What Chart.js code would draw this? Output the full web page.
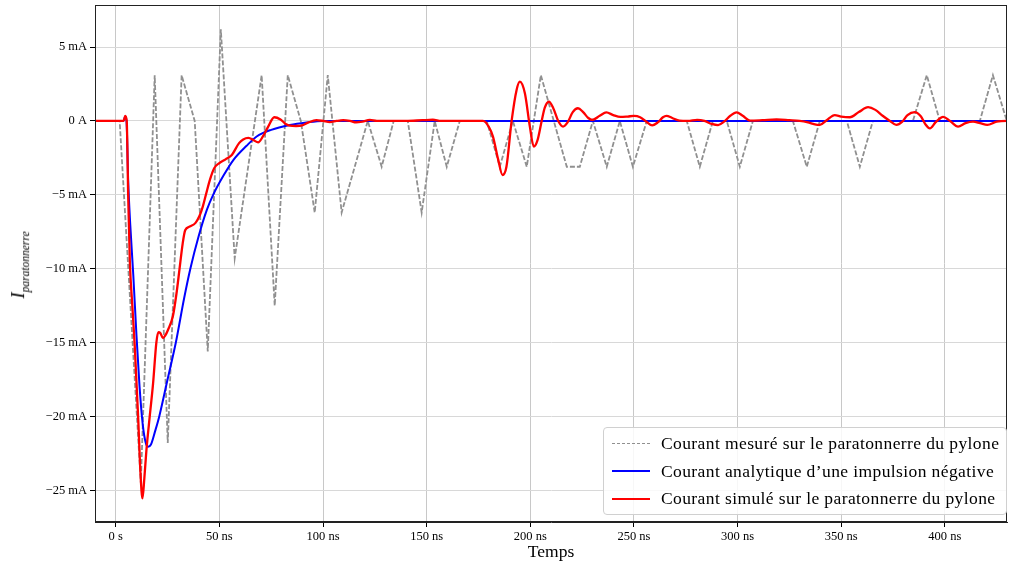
<!DOCTYPE html>
<html>
<head>
<meta charset="utf-8">
<script src="https://cdn.jsdelivr.net/npm/chart.js@4.4.0/dist/chart.umd.min.js"></script>
<style>
body { margin: 0; background: #fff; }
#wrap { position: relative; width: 1009px; height: 564px; font-family: "Liberation Serif", serif; }
#chart { position: absolute; left: 0; top: 0; }
#ylabel { position: absolute; left: 19px; top: 265px; transform: translate(-50%, -50%) rotate(-90deg);
  white-space: nowrap; font-style: italic; font-size: 19px; }
#ylabel sub { font-size: 11.5px; }
#legend { position: absolute; left: 603px; top: 427px; width: 404px; height: 88px; box-sizing: border-box;
  border: 1px solid #d0d0d0; border-radius: 4px; background: rgba(255,255,255,0.85); padding-top: 2px; }
.row { height: 27.5px; display: flex; align-items: center; font-size: 17.5px; letter-spacing: 0.4px; }
.swatch { width: 38px; margin-left: 8px; margin-right: 11px; height: 0; }
</style>
</head>
<body>
<div id="wrap">
  <canvas id="chart" width="1009" height="564"></canvas>
  <div id="ylabel">I<sub>paratonnerre</sub></div>
  <div id="legend"></div>
</div>
<script>
// axis ticks
const timeTicks = [0, 50, 100, 150, 200, 250, 300, 350, 400];
const timeTickLabels = ['0 s', '50 ns', '100 ns', '150 ns', '200 ns', '250 ns', '300 ns', '350 ns', '400 ns'];
const currentTicks = [5, 0, -5, -10, -15, -20, -25];
const currentTickLabels = ['5 mA', '0 A', '\u22125 mA', '\u221210 mA', '\u221215 mA', '\u221220 mA', '\u221225 mA'];

// measured current (ns, mA)
const measuredTime = [-10, 1.9, 12.1, 18.8, 25.1, 31.8, 38.1, 44.4, 50.7, 57.4, 70.4, 76.7, 83.0, 89.3, 96.0,
  102.3, 109.0, 121.6, 128.3, 134.1, 140.9, 147.6, 153.9, 159.7, 166.0, 179.0, 185.3, 191.6, 198.3, 205.1,
  217.6, 223.9, 230.2, 236.9, 243.2, 249.5, 256.2, 275.5, 281.8, 288.1, 294.8, 301.1, 307.4, 326.7, 333.4,
  339.7, 352.7, 359.0, 365.3, 384.6, 391.3, 397.6, 416.9, 423.2, 429.9, 436.2];
const measuredCurrent = [0, 0, -24.5, 3.1, -21.8, 3.1, 0, -15.6, 6.2, -9.3, 3.1, -12.5, 3.1, 0, -6.2,
  3.1, -6.2, 0, -3.1, 0, 0, -6.2, 0, -3.1, 0, 0, -3.1, 0, -3.1, 3.1,
  -3.1, -3.1, 0, -3.1, 0, -3.1, 0, 0, -3.1, 0, 0, -3.1, 0, 0, -3.1,
  0, 0, -3.1, 0, 0, 3.1, 0, 0, 3.1, 0, 3.1];

// analytic negative impulse (ns, mA)
const analyticTime = [-10, 3.8, 4.5, 5.2, 6, 7, 8.5, 10, 11.5, 13, 14.5, 15.6, 17, 19, 21, 25, 29, 33, 36,
  40, 44, 47, 52, 57, 63, 68, 75, 84, 92, 100, 430];
const analyticCurrent = [0, 0, 0.3, 0, -4, -7, -10.5, -14.5, -18, -20.5, -21.8, -22.05, -21.9, -21, -20, -17.5,
  -15, -12, -10, -7.8, -6, -5, -3.7, -2.6, -1.7, -1.05, -0.6, -0.27, -0.1, 0, 0];

// simulated current (ns, mA)
const simulatedTime = [-10, 3.8, 4.6, 5.3, 6, 6.8, 8, 9.2, 10.8, 12.0, 12.9, 13.8, 14.8, 16.4, 18, 19.6, 20.6,
  21.5, 22.8, 24, 25.2, 27.6, 29.3, 30.8, 32.3, 33.5, 35.7, 38.5, 40.5, 42, 43.5, 45.4, 47.5, 50, 53, 56,
  59.5, 61.5, 64, 66.5, 68.7, 71, 73.5, 76.5, 79.5, 82, 84, 87, 90, 93, 96.8, 100, 103.3, 106.5, 109.7,
  113, 116, 119, 122.6, 126, 132, 140, 148, 153, 157, 161, 170, 177.2, 180, 182, 184.5, 186.6, 188.5, 191,
  193.4, 195, 197.4, 199.8, 201.7, 203.5, 205.5, 207, 209, 211, 213.5, 215.8, 218, 220.5, 223, 225.5, 228,
  230, 233.5, 236.7, 240, 243.5, 247, 250, 253, 256, 258.8, 261.5, 264, 265.7, 268.5, 272, 276, 280.5, 284,
  287.5, 290.6, 293.5, 296.5, 299.5, 302.5, 306, 312, 318.8, 325, 330, 334, 336.5, 339.7, 343, 346.9, 350,
  354.2, 358.5, 363, 366.5, 370, 373.5, 376.6, 379.5, 382, 385.5, 388.5, 390.5, 392.8, 395.5, 399.2, 402.5,
  406.4, 410, 413.6, 417, 420.5, 425, 430, 432];
const simulatedCurrent = [0, 0, 0.35, 0, -5, -9.5, -12.5, -15.3, -20, -24, -25.55, -24.2, -22.3, -20, -17.8, -15, -14.3,
  -14.35, -14.7, -14.5, -14.15, -13.2, -11.7, -10, -8.3, -7.4, -7.15, -6.9, -6.4, -5.8, -5, -4.0, -3.2, -2.85, -2.6, -2.3,
  -1.5, -1.25, -1.15, -1.3, -1.45, -1.05, -0.4, 0.25, 0.1, -0.2, -0.32, -0.34, -0.3, -0.1, 0.05, 0, -0.08, 0, 0.05,
  0, -0.1, -0.05, 0.07, 0, 0, 0, 0.05, 0.08, 0, 0, 0, 0, -0.4, -1.06, -2.6, -3.66, -3.1, 0,
  2.1, 2.66, 1.87, -0.38, -1.74, -1.3, 0, 0.9, 1.3, 0.9, 0, -0.38, -0.1, 0.6, 0.86, 0.6, 0.2,
  0.07, 0.35, 0.58, 0.4, 0.27, 0.3, 0.34, 0.25, -0.05, -0.3, -0.1, 0.25, 0.35, 0.2, 0.02, 0, 0.07, 0,
  -0.2, -0.28, -0.05, 0.35, 0.58, 0.35, 0.02, 0.05, 0.1, 0.05, 0, -0.1, -0.2, -0.27, 0.05, 0.4, 0.3,
  0.25, 0.6, 0.93, 0.75, 0.35, 0, -0.27, -0.05, 0.4, 0.6, 0.3, -0.2, -0.5, -0.1, 0.28, 0,
  -0.38, -0.15, -0.05, -0.15, -0.27, -0.05, 0, 0];

function pairUp(xs, ys) {
  return xs.map((x, i) => ({ x: x, y: ys[i] }));
}

const datasets = [
  {
    label: 'Courant mesuré sur le paratonnerre du pylone',
    data: pairUp(measuredTime, measuredCurrent),
    borderColor: '#909090',
    borderWidth: 1.8,
    borderDash: [5, 2],
    tension: 0,
    order: 2
  },
  {
    label: 'Courant analytique d\u2019une impulsion négative',
    data: pairUp(analyticTime, analyticCurrent),
    borderColor: '#0000ff',
    borderWidth: 2,
    cubicInterpolationMode: 'monotone',
    order: 1
  },
  {
    label: 'Courant simulé sur le paratonnerre du pylone',
    data: pairUp(simulatedTime, simulatedCurrent),
    borderColor: '#ff0000',
    borderWidth: 2.3,
    cubicInterpolationMode: 'monotone',
    order: 0
  }
];

// black box around the plot area
const frame = {
  id: 'frame',
  afterDatasetsDraw(chart) {
    const a = chart.chartArea;
    const ctx = chart.ctx;
    ctx.save();
    ctx.strokeStyle = '#222';
    ctx.lineWidth = 1;
    ctx.strokeRect(Math.round(a.left) + 0.5, Math.round(a.top) + 0.5,
      Math.round(a.right - a.left) - 1, Math.round(a.bottom - a.top) - 1);
    ctx.restore();
  }
};

const tickFont = { family: '"Liberation Serif", serif', size: 12.5 };

new Chart(document.getElementById('chart'), {
  type: 'line',
  data: { datasets: datasets },
  plugins: [frame],
  options: {
    responsive: false,
    animation: false,
    layout: { padding: { top: 5, right: 2, left: 0, bottom: 0 } },
    elements: { point: { radius: 0 } },
    plugins: { legend: { display: false }, tooltip: { enabled: false } },
    scales: {
      x: {
        type: 'linear',
        min: -10,
        max: 430,
        afterBuildTicks: ax => { ax.ticks = timeTicks.map(v => ({ value: v })); },
        afterFit: s => { s.height = 42; s.paddingLeft = 0; s.paddingRight = 0; },
        ticks: {
          callback: (v, i) => timeTickLabels[i],
          font: tickFont,
          color: '#000',
          padding: 2,
          maxRotation: 0
        },
        grid: { color: '#c8c8c8', tickColor: '#000', tickLength: 5 },
        border: { display: true, color: '#222' },
        title: {
          display: true,
          text: 'Temps',
          color: '#000',
          font: { family: '"Liberation Serif", serif', size: 17.5 },
          padding: { top: 0, bottom: 1 }
        }
      },
      y: {
        type: 'linear',
        min: -27.15,
        max: 7.85,
        afterBuildTicks: ax => { ax.ticks = currentTicks.map(v => ({ value: v })); },
        afterFit: s => { s.width = 95; s.paddingTop = 0; s.paddingBottom = 0; },
        ticks: {
          callback: (v, i) => currentTickLabels[i],
          font: tickFont,
          color: '#000',
          padding: 3
        },
        grid: { color: '#d8d8d8', tickColor: '#000', tickLength: 5 },
        border: { display: true, color: '#222' }
      }
    }
  }
});

// html legend built from the datasets
const legend = document.getElementById('legend');
datasets.forEach(ds => {
  const row = document.createElement('div');
  row.className = 'row';
  const sw = document.createElement('span');
  sw.className = 'swatch';
  sw.style.borderTop = (ds.borderDash ? '1.8px dashed ' : '2px solid ') + ds.borderColor;
  row.appendChild(sw);
  row.appendChild(document.createTextNode(ds.label));
  legend.appendChild(row);
});
</script>
</body>
</html>
